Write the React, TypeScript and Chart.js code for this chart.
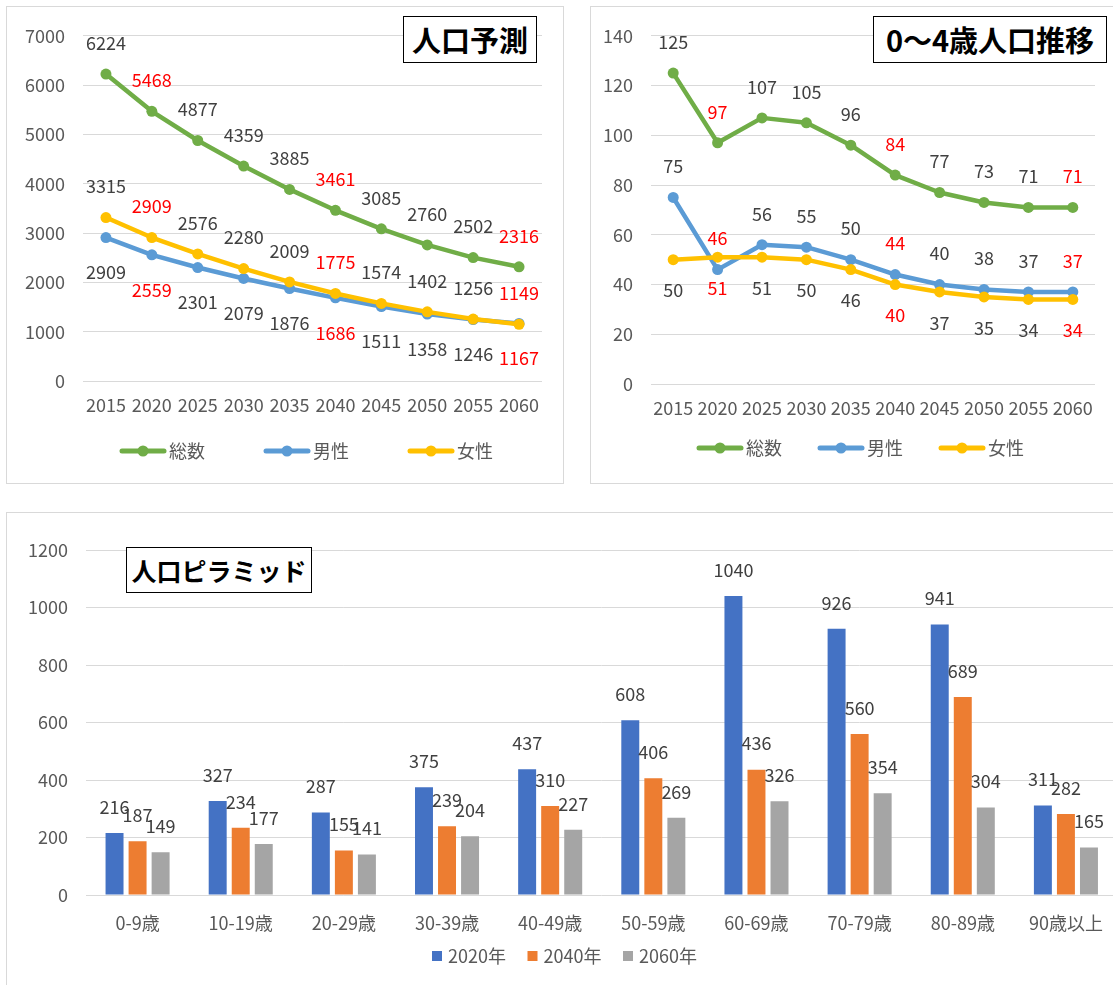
import React, { useEffect, useRef } from "react";
import { Chart, registerables } from "chart.js";

Chart.register(...registerables);

const FONT = '"Noto Sans CJK JP", "Noto Sans", sans-serif';
Chart.defaults.font.family = FONT;

// ---------- data ----------
const years = ["2015", "2020", "2025", "2030", "2035", "2040", "2045", "2050", "2055", "2060"];
const highlightYears = ["2020", "2040", "2060"];

const popTotal = [6224, 5468, 4877, 4359, 3885, 3461, 3085, 2760, 2502, 2316];
const popMale = [2909, 2559, 2301, 2079, 1876, 1686, 1511, 1358, 1246, 1167];
const popFemale = [3315, 2909, 2576, 2280, 2009, 1775, 1574, 1402, 1256, 1149];

const kidsTotal = [125, 97, 107, 105, 96, 84, 77, 73, 71, 71];
const kidsMale = [75, 46, 56, 55, 50, 44, 40, 38, 37, 37];
const kidsFemale = [50, 51, 51, 50, 46, 40, 37, 35, 34, 34];

const ageGroups = ["0-9歳", "10-19歳", "20-29歳", "30-39歳", "40-49歳", "50-59歳", "60-69歳", "70-79歳", "80-89歳", "90歳以上"];
const pop2020 = [216, 327, 287, 375, 437, 608, 1040, 926, 941, 311];
const pop2040 = [187, 234, 155, 239, 310, 406, 436, 560, 689, 282];
const pop2060 = [149, 177, 141, 204, 227, 269, 326, 354, 304, 165];

const seriesNames = ["総数", "男性", "女性"];
const barSeriesNames = ["2020年", "2040年", "2060年"];

// ---------- styles ----------
const GREEN = "#70AD47";
const BLUE = "#5B9BD5";
const YELLOW = "#FFC000";
const BAR_BLUE = "#4472C4";
const BAR_ORANGE = "#ED7D31";
const BAR_GRAY = "#A5A5A5";
const TICK = "#595959";
const DARK = "#404040";
const RED = "#FF0000";
const GRID = "#d9d9d9";

const plainTick = (v: any) => String(v);

// ---------- plugins ----------
const lineLabelPlugin = {
  id: "lineLabels",
  afterDatasetsDraw(chart: any, _args: any, opts: any) {
    const ctx = chart.ctx;
    ctx.save();
    ctx.font = `18px ${FONT}`;
    ctx.textAlign = "center";
    ctx.textBaseline = "middle";
    chart.data.datasets.forEach((ds: any, di: number) => {
      const meta = chart.getDatasetMeta(di);
      meta.data.forEach((pt: any, i: number) => {
        const lab = chart.data.labels[i];
        ctx.fillStyle = highlightYears.includes(lab) ? RED : DARK;
        const dy = ds.labelPos === "below" ? opts.below : -opts.above;
        ctx.fillText(String(ds.data[i]), pt.x, pt.y + dy);
      });
    });
    ctx.restore();
  },
};

const lineLegendPlugin = {
  id: "lineLegend",
  afterDraw(chart: any, _args: any, opts: any) {
    const ctx = chart.ctx;
    ctx.save();
    chart.data.datasets.forEach((ds: any, i: number) => {
      const x = opts.startX + i * opts.spacing;
      const y = opts.y;
      ctx.strokeStyle = ds.borderColor;
      ctx.lineWidth = 5;
      ctx.lineCap = "round";
      ctx.beginPath();
      ctx.moveTo(x, y);
      ctx.lineTo(x + 42, y);
      ctx.stroke();
      ctx.fillStyle = ds.borderColor;
      ctx.beginPath();
      ctx.arc(x + 21, y, 5.5, 0, Math.PI * 2);
      ctx.fill();
      ctx.fillStyle = TICK;
      ctx.font = `18px ${FONT}`;
      ctx.textAlign = "left";
      ctx.textBaseline = "middle";
      ctx.fillText(ds.label, x + 47, y);
    });
    ctx.restore();
  },
};

const barLabelPlugin = {
  id: "barLabels",
  afterDatasetsDraw(chart: any, _args: any, opts: any) {
    const ctx = chart.ctx;
    ctx.save();
    ctx.font = `18px ${FONT}`;
    ctx.textAlign = "center";
    ctx.textBaseline = "middle";
    ctx.fillStyle = DARK;
    chart.data.datasets.forEach((ds: any, di: number) => {
      const meta = chart.getDatasetMeta(di);
      meta.data.forEach((bar: any, i: number) => {
        ctx.fillText(String(ds.data[i]), bar.x, bar.y - opts.offset);
      });
    });
    ctx.restore();
  },
};

const barLegendPlugin = {
  id: "barLegend",
  afterDraw(chart: any, _args: any, opts: any) {
    const ctx = chart.ctx;
    ctx.save();
    chart.data.datasets.forEach((ds: any, i: number) => {
      const x = opts.startX + i * opts.spacing;
      const y = opts.y;
      ctx.fillStyle = ds.backgroundColor;
      ctx.fillRect(x, y - 5, 10, 10);
      ctx.fillStyle = TICK;
      ctx.font = `18px ${FONT}`;
      ctx.textAlign = "left";
      ctx.textBaseline = "middle";
      ctx.fillText(ds.label, x + 16, y);
    });
    ctx.restore();
  },
};

// ---------- config builders ----------
function lineDataset(label: string, data: number[], color: string, labelPos: string, order: number) {
  return {
    label,
    data,
    borderColor: color,
    backgroundColor: color,
    borderWidth: 4.5,
    borderJoinStyle: "round",
    borderCapStyle: "round",
    pointRadius: 5.5,
    pointBorderWidth: 0,
    pointBackgroundColor: color,
    tension: 0,
    labelPos,
    order,
  };
}

function lineConfig(
  totals: number[], males: number[], females: number[],
  max: number, step: number,
  pad: any, yWidth: number, xHeight: number, legend: any
) {
  return {
    type: "line",
    data: {
      labels: years,
      datasets: [
        lineDataset(seriesNames[0], totals, GREEN, "above", 2),
        lineDataset(seriesNames[1], males, BLUE, pad.maleLabel, 1),
        lineDataset(seriesNames[2], females, YELLOW, pad.femaleLabel, 0),
      ],
    },
    options: {
      responsive: false,
      animation: false,
      devicePixelRatio: 1,
      layout: { padding: { top: pad.top, right: pad.right, left: 0, bottom: 0 } },
      plugins: {
        legend: { display: false },
        tooltip: { enabled: false },
        lineLabels: { above: 31, below: pad.below },
        lineLegend: legend,
      },
      scales: {
        x: {
          offset: true,
          grid: { display: false, drawTicks: false },
          border: { display: false },
          ticks: { color: TICK, font: { size: 18 }, padding: 13, autoSkip: false, maxRotation: 0 },
          afterFit: (s: any) => { s.height = xHeight; },
        },
        y: {
          min: 0,
          max,
          grid: { color: GRID, drawTicks: false },
          border: { display: false },
          ticks: { stepSize: step, color: TICK, font: { size: 18 }, padding: 18, callback: plainTick },
          afterFit: (s: any) => { s.width = yWidth; },
        },
      },
    },
    plugins: [lineLabelPlugin, lineLegendPlugin],
  };
}

function barConfig() {
  const mk = (label: string, data: number[], color: string) => ({
    label,
    data,
    backgroundColor: color,
    borderWidth: 0,
    categoryPercentage: 0.67,
    barPercentage: 0.78,
  });
  return {
    type: "bar",
    data: {
      labels: ageGroups,
      datasets: [
        mk(barSeriesNames[0], pop2020, BAR_BLUE),
        mk(barSeriesNames[1], pop2040, BAR_ORANGE),
        mk(barSeriesNames[2], pop2060, BAR_GRAY),
      ],
    },
    options: {
      responsive: false,
      animation: false,
      devicePixelRatio: 1,
      layout: { padding: { top: 37, right: 17.5, left: 0, bottom: 0 } },
      plugins: {
        legend: { display: false },
        tooltip: { enabled: false },
        barLabels: { offset: 26 },
        barLegend: { startX: 425, spacing: 95.5, y: 443 },
      },
      scales: {
        x: {
          grid: { display: false, drawTicks: false },
          border: { display: false },
          ticks: { color: TICK, font: { size: 18 }, padding: 17, autoSkip: false, maxRotation: 0 },
          afterFit: (s: any) => { s.height = 100; },
        },
        y: {
          min: 0,
          max: 1200,
          grid: { color: GRID, drawTicks: false },
          border: { display: false },
          ticks: { stepSize: 200, color: TICK, font: { size: 18 }, padding: 18, callback: plainTick },
          afterFit: (s: any) => { s.width = 79; },
        },
      },
    },
    plugins: [barLabelPlugin, barLegendPlugin],
  };
}

function ChartCanvas({ width, height, makeConfig }: { width: number; height: number; makeConfig: () => any }) {
  const ref = useRef<HTMLCanvasElement | null>(null);
  useEffect(() => {
    if (!ref.current) return;
    const chart = new Chart(ref.current, makeConfig());
    return () => chart.destroy();
  }, []);
  return <canvas ref={ref} width={width} height={height} style={{ display: "block", width, height }} />;
}

const panel = (left: number, top: number, w: number, h: number): React.CSSProperties => ({
  position: "absolute",
  left,
  top,
  width: w,
  height: h,
  border: "1px solid #d9d9d9",
  background: "#fff",
});

const titleBox = (left: number, top: number, w: number, h: number, size: number): React.CSSProperties => ({
  position: "absolute",
  left,
  top,
  width: w,
  height: h,
  boxSizing: "border-box",
  border: "1.5px solid #000",
  background: "#fff",
  display: "flex",
  alignItems: "center",
  justifyContent: "center",
  fontFamily: FONT,
  fontWeight: 700,
  fontSize: size,
  color: "#000",
  whiteSpace: "nowrap",
  lineHeight: 1,
});

export default function App() {
  return (
    <div style={{ position: "fixed", left: 0, top: 0, width: 1113, height: 985, overflow: "hidden", background: "#fff" }}>
      <div style={panel(6, 6, 556, 476)}>
        <ChartCanvas
          width={556}
          height={476}
          makeConfig={() =>
            lineConfig(popTotal, popMale, popFemale, 7000, 1000,
              { top: 26, right: 21, below: 35, maleLabel: "below", femaleLabel: "above" },
              76, 102, { startX: 115, spacing: 144, y: 444 })
          }
        />
      </div>
      <div style={panel(590, 6, 542, 476)}>
        <ChartCanvas
          width={542}
          height={476}
          makeConfig={() =>
            lineConfig(kidsTotal, kidsMale, kidsFemale, 140, 20,
              { top: 28, right: 38, below: 31, maleLabel: "above", femaleLabel: "below" },
              60, 99, { startX: 108, spacing: 121, y: 441 })
          }
        />
      </div>
      <div style={panel(6, 512, 1128, 482)}>
        <ChartCanvas width={1128} height={482} makeConfig={barConfig} />
      </div>
      <div style={titleBox(403, 16, 134, 47, 29)}>人口予測</div>
      <div style={titleBox(873, 16, 234, 47, 29)}>0〜4歳人口推移</div>
      <div style={titleBox(126, 547, 186, 46, 25)}>人口ピラミッド</div>
    </div>
  );
}
